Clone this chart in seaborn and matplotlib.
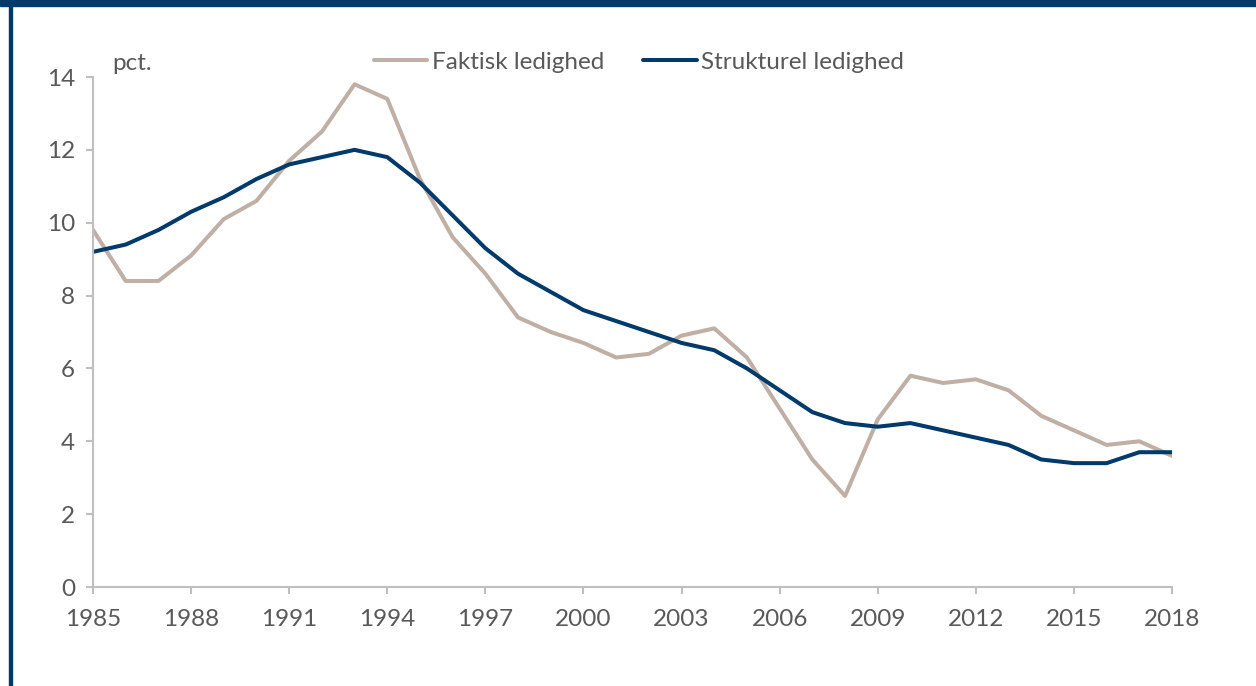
import matplotlib
matplotlib.use("Agg")
import matplotlib.pyplot as plt
import seaborn as sns
import pandas as pd

years = list(range(1985, 2019))
faktisk = [9.8, 8.4, 8.4, 9.1, 10.1, 10.6, 11.7, 12.5, 13.8, 13.4,
           11.2, 9.6, 8.6, 7.4, 7.0, 6.7, 6.3, 6.4, 6.9, 7.1,
           6.3, 4.9, 3.5, 2.5, 4.6, 5.8, 5.6, 5.7, 5.4, 4.7,
           4.3, 3.9, 4.0, 3.6]
strukturel = [9.2, 9.4, 9.8, 10.3, 10.7, 11.2, 11.6, 11.8, 12.0, 11.8,
              11.1, 10.2, 9.3, 8.6, 8.1, 7.6, 7.3, 7.0, 6.7, 6.5,
              6.0, 5.4, 4.8, 4.5, 4.4, 4.5, 4.3, 4.1, 3.9, 3.5,
              3.4, 3.4, 3.7, 3.7]
series_names = ["Faktisk ledighed", "Strukturel ledighed"]
xticks = list(range(1985, 2019, 3))
yticks = [0, 2, 4, 6, 8, 10, 12, 14]

df = pd.DataFrame({
    "year": years * 2,
    "value": faktisk + strukturel,
    "series": [series_names[0]] * len(years) + [series_names[1]] * len(years),
})

sns.set_style("white")
plt.rcParams['font.family'] = ['Lato', 'DejaVu Sans']

TXT = "#595959"
GRID = "#BFBFBF"
NAVY = "#003A6B"
FS = 17.5

fig = plt.figure(figsize=(12.56, 6.86), dpi=100)
ax = fig.add_axes([93/1256, 1 - 587/686, (1172-93)/1256, (587-77)/686])

sns.lineplot(data=df, x="year", y="value", hue="series",
             palette={series_names[0]: "#BFAFA4", series_names[1]: NAVY},
             linewidth=2.9, ax=ax, legend=True)

ax.set_xlim(1985, 2018)
ax.set_ylim(0, 14)
ax.set_xticks(xticks)
ax.set_yticks(yticks)
ax.set_xlabel("")
ax.set_ylabel("")
for s in ["top", "right"]:
    ax.spines[s].set_visible(False)
for s in ["left", "bottom"]:
    ax.spines[s].set_color(GRID)
    ax.spines[s].set_linewidth(1.5)
ax.tick_params(axis="both", direction="out", length=5, width=1.5, color=GRID,
               labelcolor=TXT, labelsize=FS, bottom=True, left=True)
ax.tick_params(axis="x", pad=11)
ax.tick_params(axis="y", pad=8)

ax.text(0.018, 1.013, "pct.", transform=ax.transAxes, ha="left", va="baseline",
        fontsize=FS, color=TXT)

leg = ax.legend(loc="center", bbox_to_anchor=(0.506, 1.029), ncol=2, frameon=False,
                fontsize=FS, handlelength=2.2, columnspacing=1.6, handletextpad=0.2)
for t in leg.get_texts():
    t.set_color(TXT)

# frame decorations
fig.patches.append(plt.Rectangle((0, 1 - 6/686), 1, 6/686, transform=fig.transFigure,
                                 color=NAVY, zorder=0))
fig.patches.append(plt.Rectangle((9/1256, 0), 3/1256, 1, transform=fig.transFigure,
                                 color=NAVY, zorder=0))

fig.savefig("out.png", dpi=100)
